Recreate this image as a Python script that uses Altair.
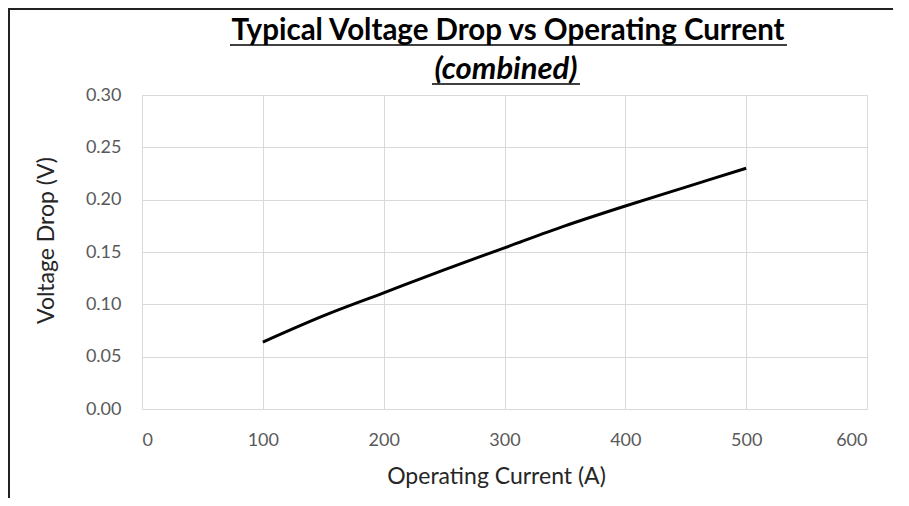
import altair as alt
import pandas as pd

current = [100, 150, 200, 250, 300, 350, 400, 450, 500]
voltage = [0.064, 0.089, 0.111, 0.133, 0.154, 0.175, 0.194, 0.212, 0.230]
x_ticks = [0, 100, 200, 300, 400, 500, 600]
y_ticks = [0.0, 0.05, 0.10, 0.15, 0.20, 0.25, 0.30]
title_text = "Typical Voltage Drop vs Operating Current"
subtitle_text = "(combined)"

df = pd.DataFrame({"current": current, "voltage": voltage})
one = pd.DataFrame({"t": [title_text], "s": [subtitle_text]})

FONT = "Lato"

line = alt.Chart(df).mark_line(color="black", strokeWidth=3, interpolate="monotone").encode(
    x=alt.X("current:Q", title="Operating Current (A)",
            scale=alt.Scale(domain=[0, 600], nice=False),
            axis=alt.Axis(values=x_ticks, grid=True, ticks=False, domain=False,
                          labelPadding=22, titlePadding=16, titleX=354, format="d")),
    y=alt.Y("voltage:Q", title="Voltage Drop (V)",
            scale=alt.Scale(domain=[0, 0.30], nice=False),
            axis=alt.Axis(values=y_ticks, grid=True, ticks=False, domain=False,
                          format=".2f", labelPadding=21, titlePadding=27, titleY=145)),
)

t1 = alt.Chart(one).mark_text(font=FONT, fontSize=29.5, fontWeight="bold", color="black",
                              align="center", baseline="alphabetic").encode(
    text="t:N", x=alt.value(366), y=alt.value(-55))
t2 = alt.Chart(one).mark_text(font=FONT, fontSize=31, fontWeight="bold", fontStyle="italic",
                              color="black", align="center", baseline="alphabetic").encode(
    text="s:N", x=alt.value(364), y=alt.value(-16))

# title underlines and partial frame (decoration)
u1 = alt.Chart(one).mark_rule(color="black", strokeWidth=1.5).encode(
    x=alt.value(88), x2=alt.value(645), y=alt.value(-50))
u2 = alt.Chart(one).mark_rule(color="black", strokeWidth=1.5).encode(
    x=alt.value(290), x2=alt.value(438), y=alt.value(-11))
ftop = alt.Chart(one).mark_rule(color="#222222", strokeWidth=2).encode(
    x=alt.value(-134), x2=alt.value(770), y=alt.value(-86))
fleft = alt.Chart(one).mark_rule(color="#222222", strokeWidth=2).encode(
    x=alt.value(-133), y=alt.value(-87), y2=alt.value(410))

chart = alt.layer(line, t1, t2, u1, u2, ftop, fleft).properties(
    width=725, height=314,
    background="white",
    autosize=alt.AutoSizeParams(type="none"),
    padding={"left": 134, "top": 87, "right": 26, "bottom": 89},
).configure_view(stroke=None).configure_axis(
    gridColor="#d9d9d9", gridWidth=1,
    labelFont=FONT, labelFontSize=18, labelColor="#595959",
    titleFont=FONT, titleFontSize=23, titleColor="#262626", titleFontWeight="normal",
)

chart.save("out.html", embed_options={"renderer": "svg", "actions": False})
